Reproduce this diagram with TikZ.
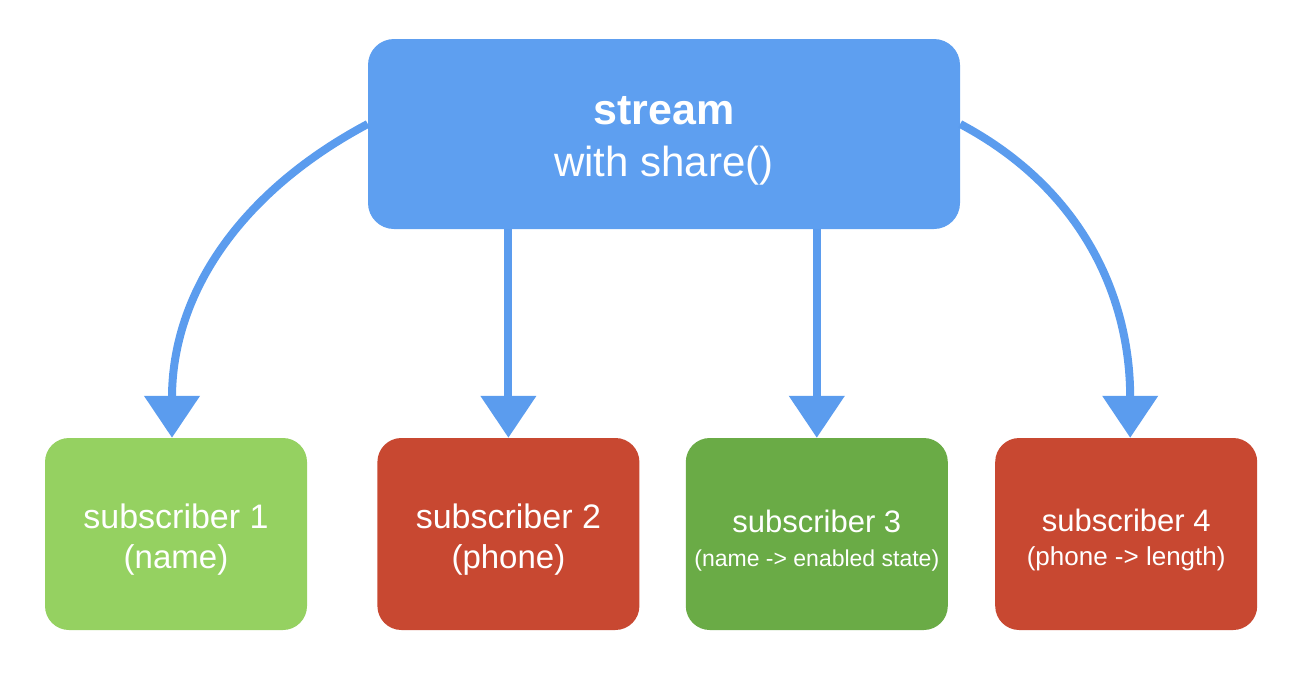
\documentclass[tikz,border=0pt]{standalone}
\usepackage{fontspec}
\setmainfont{Liberation Sans}
\usepackage{tikz}
\usetikzlibrary{arrows.meta}
\usetikzlibrary{positioning}
\definecolor{streamblue}{HTML}{5E9FF0}
\definecolor{arrowblue}{HTML}{5B9CEE}
\definecolor{subgreen}{HTML}{95D161}
\definecolor{subred}{HTML}{C84831}
\definecolor{subdarkgreen}{HTML}{6AAB46}
\newcommand{\toppad}[1]{\rule{0pt}{#1}}
\tikzset{
    streamnode/.style={rectangle,rounded corners=26pt,fill=streamblue,text=white,minimum width=592pt,minimum height=190pt,inner sep=0pt,align=center,font=\fontsize{43}{52}\selectfont},
    subnode/.style={rectangle,rounded corners=24pt,text=white,minimum width=262pt,minimum height=192pt,inner sep=0pt,align=center,font=\fontsize{34}{40}\selectfont},
    smallsub/.style={font=\fontsize{31}{34}\selectfont},
    sharearrow/.style={-{Triangle[width=54pt,length=42pt]}, line width=8pt, draw=arrowblue}
}

\begin{document}
\begin{tikzpicture}[x=1pt,y=-1pt]
    \useasboundingbox (0,0) rectangle (1294,686);
    \node[streamnode] (stream) at (664,134) {\toppad{41pt}\textbf{stream}\\
        {\fontsize{42}{52}\selectfont with share()}};
    \node[subnode,fill=subgreen] (sub1) at (176,534) {\toppad{36pt}subscriber 1\\
        {\fontsize{33}{40}\selectfont (name)}};
    \node[subnode,fill=subred] (sub2) [right=70pt of sub1] {\toppad{36pt}subscriber 2\\
        {\fontsize{33}{40}\selectfont (phone)}};
    \node[subnode,smallsub,fill=subdarkgreen] (sub3) [right=46pt of sub2] {\toppad{35pt}subscriber 3\\
        {\fontsize{23}{34}\selectfont (name -> enabled state)}};
    \node[subnode,smallsub,fill=subred] (sub4) [right=47pt of sub3] {\toppad{35pt}subscriber 4\\
        {\fontsize{26}{34}\selectfont (phone -> length)}};
    \draw[sharearrow] ([yshift=10pt]stream.west) to[out=208,in=90] ([xshift=-4pt]sub1.north);
    \draw[sharearrow] (sub2.north |- stream.south) -- (sub2.north);
    \draw[sharearrow] (sub3.north |- stream.south) -- (sub3.north);
    \draw[sharearrow] ([yshift=10pt]stream.east) to[out=-28,in=90] ([xshift=4pt]sub4.north);
\end{tikzpicture}
\end{document}
